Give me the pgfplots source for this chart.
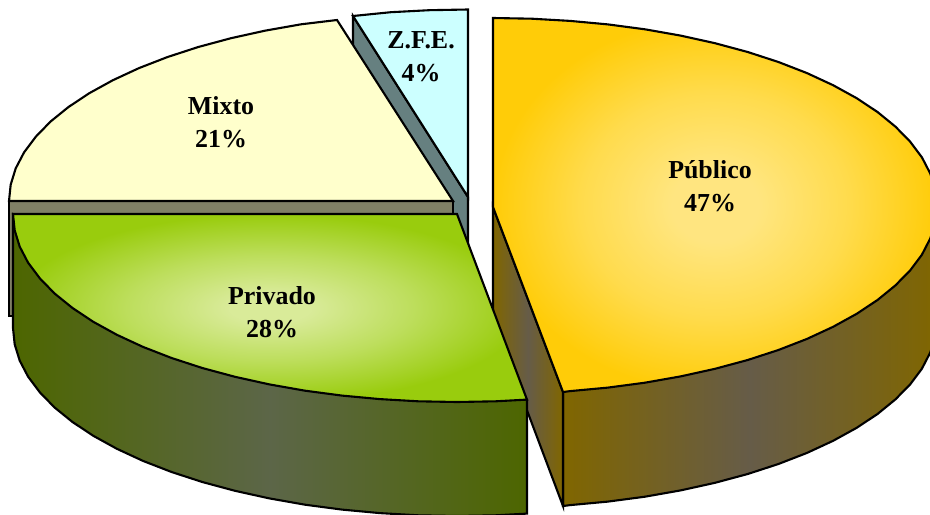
\documentclass[border=0pt]{standalone}
\usepackage{fontspec}
\setmainfont{Liberation Serif}
\usepackage{pgfplots}
\pgfplotsset{compat=1.18}
\definecolor{pubSide}{RGB}{128,102,0}
\definecolor{pubMid}{RGB}{102,92,72}
\definecolor{priSide}{RGB}{77,102,0}
\definecolor{priMid}{RGB}{92,102,72}
\definecolor{mixTop}{RGB}{255,255,204}
\definecolor{mixSide}{RGB}{128,128,102}
\definecolor{zfeTop}{RGB}{204,255,255}
\definecolor{zfeSide}{RGB}{102,128,128}
\pgfdeclareradialshading{pubRad}{\pgfpoint{0bp}{0bp}}{
  rgb(0bp)=(1,0.90,0.50); rgb(5bp)=(1,0.90,0.50); rgb(15bp)=(1,0.86,0.30); rgb(25bp)=(1,0.80,0.03); rgb(50bp)=(1,0.80,0.03)}
\pgfdeclareradialshading{priRad}{\pgfpoint{0bp}{0bp}}{
  rgb(0bp)=(0.85,0.92,0.60); rgb(4bp)=(0.85,0.92,0.60); rgb(14bp)=(0.74,0.87,0.36); rgb(25bp)=(0.60,0.80,0.05); rgb(50bp)=(0.60,0.80,0.05)}
\begin{document}
\begin{tikzpicture}
\begin{axis}[
  scale only axis, width=930bp, height=514bp,
  xmin=0, xmax=930, ymin=0, ymax=514, y dir=reverse,
  axis line style={draw=none}, ticks=none, no marks,
  every axis plot/.append style={draw=black, line width=2.1bp, line join=miter, solid},
]
% Publico: outer side
\addplot[left color=pubSide, right color=pubSide, middle color=pubMid] coordinates {
(563,392)(937,206)(937,320)(935.3,336.4)(930.2,352.6)(921.9,368.7)(910.2,384.3)(895.4,399.4)(877.5,414)(856.7,427.8)(833.1,440.8)(807,452.9)(778.4,464)(747.7,474)(715,482.8)(680.6,490.4)(644.9,496.7)(607.9,501.6)(570.1,505.1)(563,506)
} -- cycle;
% Publico: cut face
\addplot[left color=pubSide, right color=pubSide, middle color=pubMid] coordinates {
(493,207)(563,392)(563,506)(493,320)
} -- cycle;
% Publico: top
\addplot[shading=pubRad] coordinates {
(493,207)(493,18)(531.7,18.7)(570.1,20.9)(607.9,24.4)(644.9,29.3)(680.6,35.6)(715,43.2)(747.7,52)(778.4,62)(807,73.1)(833.1,85.2)(856.7,98.2)(877.5,112)(895.4,126.6)(910.2,141.7)(921.9,157.3)(930.2,173.4)(935.3,189.6)(937,206)(935.3,222.4)(930.2,238.6)(921.9,254.7)(910.2,270.3)(895.4,285.4)(877.5,300)(856.7,313.8)(833.1,326.8)(807,338.9)(778.4,350)(747.7,360)(715,368.8)(680.6,376.4)(644.9,382.7)(607.9,387.6)(570.1,391.1)(563,392)
} -- cycle;
% Z.F.E.: side
\addplot[fill=zfeSide] coordinates {(353,16)(468,197)(468,311)(353,130)} -- cycle;
% Z.F.E.: top
\addplot[fill=zfeTop] coordinates {(468,197)(468,9.5)(429.3,10.2)(390.9,12.2)(353,16)} -- cycle;
% Mixto: side
\addplot[fill=mixSide] coordinates {(9,201)(453,201)(453,316)(9,316)} -- cycle;
% Mixto: top
\addplot[fill=mixTop] coordinates {
(453,201)(9,201)(10.7,184.6)(15.7,168.4)(24.1,152.3)(35.8,136.7)(50.6,121.5)(68.5,107)(89.3,93.2)(112.9,80.2)(139,68.1)(167.6,57)(198.3,47)(231,38.2)(265.4,30.6)(301.1,24.3)(337,20)
} -- cycle;
% Privado: side
\addplot[left color=priSide, right color=priSide, middle color=priMid] coordinates {
(527,400)(13,214)(13,328)(14.7,344.4)(19.7,360.6)(28.1,376.7)(39.8,392.3)(54.6,407.5)(72.5,422)(93.3,435.8)(116.9,448.8)(143,460.9)(171.6,472)(202.3,482)(235,490.8)(269.4,498.4)(305.1,504.7)(342.1,509.6)(379.9,513.1)(418.3,515.3)(457,516)(495.7,515.3)(527,513.6)
} -- cycle;
% Privado: top
\addplot[shading=priRad] coordinates {
(457,214)(13,214)(14.7,230.4)(19.7,246.6)(28.1,262.7)(39.8,278.3)(54.6,293.5)(72.5,308)(93.3,321.8)(116.9,334.8)(143,346.9)(171.6,358)(202.3,368)(235,376.8)(269.4,384.4)(305.1,390.7)(342.1,395.6)(379.9,399.1)(418.3,401.3)(457,402)(495.7,401.3)(527,399.6)
} -- cycle;
\node[align=center, font=\fontsize{26}{33.5}\selectfont\bfseries] at (axis cs:710,186) {Público\\47\%};
\node[align=center, font=\fontsize{26}{33.5}\selectfont\bfseries] at (axis cs:272,312) {Privado\\28\%};
\node[align=center, font=\fontsize{26}{33.5}\selectfont\bfseries] at (axis cs:221,122) {Mixto\\21\%};
\node[align=center, font=\fontsize{26}{33.5}\selectfont\bfseries] at (axis cs:421,57) {Z.F.E.\\4\%};
\end{axis}
\end{tikzpicture}
\end{document}
